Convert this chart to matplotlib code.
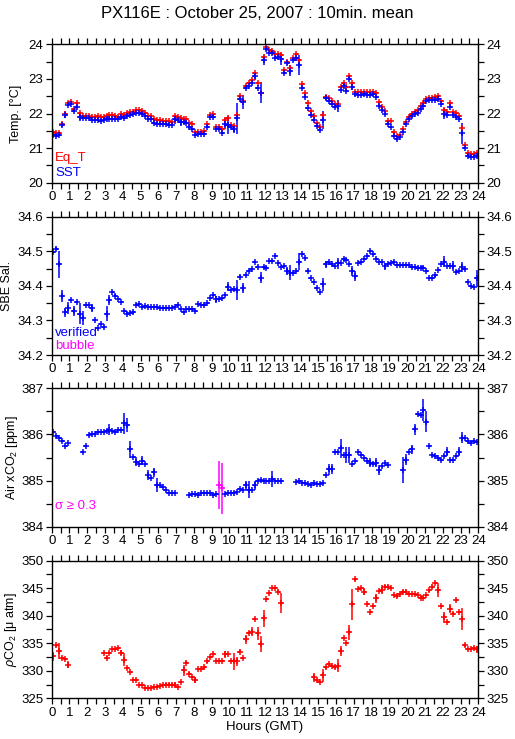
import numpy as np
import matplotlib
matplotlib.use("Agg")
import matplotlib.pyplot as plt

plt.rcParams['font.family'] = ['Liberation Sans', 'DejaVu Sans']
plt.rcParams['mathtext.fontset'] = 'custom'
plt.rcParams['mathtext.rm'] = 'Liberation Sans'
plt.rcParams['mathtext.it'] = 'Liberation Sans:italic'

nan = np.nan
TITLE = "PX116E : October 25, 2007 : 10min. mean"
XLABEL = "Hours (GMT)"
HOURS = np.arange(144) / 6.0 + 1.0 / 12.0   # 10-minute bin centres
BIN_HALF = 1.0 / 12.0

sst = [21.38, 21.36, 21.37, 21.67, 21.96, 22.25, 22.27, 22.07, 22.20, 21.89, 21.86, 21.86,
       21.86, 21.81, 21.81, 21.81, 21.79, 21.81, 21.83, 21.84, 21.83, 21.83, 21.83, 21.90,
       21.88, 21.93, 21.96, 21.98, 22.02, 22.02, 21.99, 21.93, 21.83, 21.83, 21.73, 21.71,
       21.70, 21.70, 21.70, 21.67, 21.67, 21.83, 21.81, 21.74, 21.74, 21.73, 21.62, 21.54,
       21.38, 21.40, 21.41, 21.40, 21.62, 21.89, 21.89, 21.54, 21.54, 21.45, 21.71, 21.67,
       21.60, 21.54, 21.86, 22.41, 22.34, 22.73, 22.80, 22.89, 23.07, 22.73, 22.60, 23.55,
       23.87, 23.76, 23.76, 23.61, 23.64, 23.57, 23.16, 23.45, 23.24, 23.55, 23.61, 23.40,
       22.73, 22.47, 22.15, 21.96, 21.81, 21.65, 21.52, 21.81, 22.44, 22.37, 22.27, 22.18,
       22.22, 22.68, 22.80, 22.66, 22.99, 22.78, 22.55, 22.53, 22.53, 22.55, 22.53, 22.53,
       22.55, 22.49, 22.22, 22.10, 21.98, 21.70, 21.62, 21.36, 21.25, 21.31, 21.46, 21.69,
       21.83, 21.93, 21.98, 22.02, 22.12, 22.22, 22.36, 22.39, 22.39, 22.39, 22.41, 22.27,
       22.00, 21.96, 22.20, 21.96, 21.89, 21.83, 21.43, 21.00, 20.77, 20.75, 20.75, 20.78]
sst_err = {4: 0.1, 9: 0.12, 41: 0.12, 43: 0.1, 58: 0.17, 59: 0.25, 61: 0.1, 62: 0.45,
           64: 0.2, 68: 0.1, 70: 0.3, 71: 0.15, 77: 0.17, 80: 0.15, 83: 0.3, 91: 0.27,
           96: 0.17, 101: 0.1, 132: 0.15, 138: 0.3}
sst_err_default = 0.03

eq_t = [21.47, 21.45, 21.45, 21.70, 22.00, 22.30, 22.34, 22.12, 22.29, 22.02, 21.94, 21.94,
        21.94, 21.91, 21.91, 21.93, 21.89, 21.89, 21.93, 21.95, 21.95, 21.93, 21.91, 21.99,
        21.97, 22.01, 22.04, 22.05, 22.10, 22.11, 22.07, 22.01, 21.94, 21.93, 21.83, 21.81,
        21.81, 21.79, 21.79, 21.78, 21.76, 21.93, 21.89, 21.86, 21.85, 21.83, 21.73, 21.71,
        21.47, 21.47, 21.47, 21.49, 21.70, 21.96, 22.00, 21.62, 21.62, 21.54, 21.81, 21.86,
        21.67, 21.64, 21.95, 22.52, 22.37, 22.80, 22.87, 22.97, 23.18, 22.89, 22.60, 23.62,
        23.91, 23.84, 23.82, 23.72, 23.72, 23.69, 23.26, 23.50, 23.31, 23.60, 23.71, 23.55,
        22.85, 22.58, 22.29, 22.07, 21.93, 21.73, 21.62, 21.95, 22.49, 22.44, 22.37, 22.27,
        22.27, 22.76, 22.89, 22.76, 23.07, 22.89, 22.63, 22.63, 22.63, 22.63, 22.63, 22.63,
        22.63, 22.58, 22.34, 22.20, 22.07, 21.79, 21.77, 21.47, 21.35, 21.37, 21.54, 21.75,
        21.91, 22.00, 22.04, 22.10, 22.22, 22.29, 22.42, 22.46, 22.46, 22.49, 22.52, 22.36,
        22.10, 22.03, 22.29, 22.03, 22.01, 21.94, 21.57, 21.09, 20.85, 20.83, 20.83, 20.85]
eq_t_err_default = 0.02

sal = [34.497, 34.508, 34.462, 34.370, 34.323, 34.337, 34.359, 34.327, 34.352, 34.320, 34.306, 34.345,
       34.345, 34.335, 34.301, 34.277, 34.289, 34.282, 34.320, 34.359, 34.381, 34.372, 34.361, 34.352,
       34.327, 34.320, 34.321, 34.323, 34.345, 34.347, 34.340, 34.342, 34.340, 34.339, 34.340, 34.338,
       34.335, 34.335, 34.337, 34.337, 34.337, 34.339, 34.345, 34.332, 34.325, 34.332, 34.332, 34.332,
       34.327, 34.347, 34.345, 34.345, 34.350, 34.364, 34.373, 34.361, 34.361, 34.364, 34.373, 34.398,
       34.388, 34.391, 34.388, 34.427, 34.393, 34.431, 34.443, 34.448, 34.470, 34.455, 34.424, 34.455,
       34.453, 34.472, 34.472, 34.487, 34.465, 34.455, 34.458, 34.443, 34.438, 34.438, 34.443, 34.470,
       34.491, 34.480, 34.444, 34.422, 34.410, 34.395, 34.383, 34.404, 34.462, 34.468, 34.463, 34.457,
       34.465, 34.465, 34.477, 34.475, 34.462, 34.443, 34.428, 34.467, 34.468, 34.478, 34.487, 34.501,
       34.492, 34.478, 34.468, 34.468, 34.457, 34.463, 34.465, 34.468, 34.460, 34.460, 34.460, 34.460,
       34.460, 34.455, 34.454, 34.453, 34.453, 34.453, 34.444, 34.424, 34.424, 34.430, 34.446, 34.462,
       34.470, 34.457, 34.457, 34.458, 34.441, 34.444, 34.455, 34.449, 34.412, 34.400, 34.398, 34.422]
sal_err = {2: 0.038, 3: 0.018, 4: 0.012, 5: 0.017, 7: 0.015, 9: 0.03, 10: 0.02, 13: 0.012,
           18: 0.022, 19: 0.015, 55: 0.01, 59: 0.012, 62: 0.03, 64: 0.015, 70: 0.017, 79: 0.012,
           80: 0.022, 83: 0.025, 91: 0.018, 92: 0.01, 96: 0.015, 101: 0.015, 102: 0.015,
           112: 0.01, 132: 0.015, 135: 0.015, 138: 0.015, 143: 0.025}
sal_err_default = 0.003

xco2 = [386.06, 385.97, 385.93, 385.86, 385.75, 385.81, nan, nan, nan, nan, 385.63, 385.76,
        385.99, 386.00, 386.01, 386.06, 386.05, 386.06, 386.07, 386.10, 386.07, 386.06, 386.10, 386.10,
        386.24, 386.20, 385.68, 385.52, 385.41, 385.35, 385.43, 385.35, 385.12, 385.05, 385.18, 384.90,
        384.90, 384.85, 384.79, 384.74, 384.72, 384.72, nan, nan, nan, nan, 384.69, 384.70,
        384.70, 384.69, 384.72, 384.72, 384.73, 384.72, 384.69, 384.70, 384.90, 384.83, 384.70, 384.73,
        384.72, 384.74, 384.76, 384.81, 384.80, 384.90, 384.80, 384.80, 384.90, 384.99, 385.01, 385.00,
        385.00, 384.99, 385.03, 384.99, 384.98, 384.98, nan, nan, nan, nan, 384.96, 384.99,
        384.95, 384.94, 384.92, 384.90, 384.94, 384.92, 384.92, 384.94, 385.13, 385.24, 385.25, 385.63,
        385.63, 385.70, 385.55, 385.55, 385.55, 385.35, 385.42, 385.61, 385.55, 385.50, 385.42, 385.39,
        385.35, 385.39, 385.23, 385.32, 385.39, 385.34, nan, nan, nan, nan, 385.23, 385.45,
        385.61, 385.68, 386.11, 386.44, 386.42, 386.53, 386.28, 385.75, 385.55, 385.53, 385.48, 385.45,
        385.53, 385.63, 385.45, 385.45, 385.53, 385.63, 385.93, 385.92, 385.86, 385.82, 385.86, 385.84]
xco2_err = {19: 0.12, 24: 0.22, 25: 0.15, 26: 0.18, 28: 0.1, 30: 0.1, 32: 0.1, 34: 0.1,
            35: 0.15, 56: 0.52, 57: 0.55, 65: 0.1, 66: 0.18, 68: 0.1, 74: 0.17, 93: 0.12,
            94: 0.1, 97: 0.2, 99: 0.17, 100: 0.18, 107: 0.1, 109: 0.1, 110: 0.1, 118: 0.28,
            119: 0.12, 121: 0.1, 122: 0.12, 125: 0.23, 126: 0.23, 133: 0.1, 137: 0.1, 138: 0.12}
xco2_err_default = 0.02
xco2_high_sigma = [56, 57]

pco2 = [332.6, 334.6, 333.6, 332.3, 332.1, 331.1, nan, nan, nan, nan, nan, nan,
        nan, nan, nan, nan, nan, 333.2, 332.4, 333.2, 333.9, 333.9, 334.1, 333.3,
        332.0, 330.5, 329.8, 328.3, 328.3, 327.4, 327.4, 326.8, 326.8, 326.8, 327.1, 327.1,
        327.2, 327.4, 327.5, 327.5, 327.5, 327.5, 327.1, 327.9, 330.1, 331.5, 329.5, 328.9,
        328.3, 330.3, 330.3, 330.6, 331.7, 332.5, 333.0, 331.8, 331.8, 331.8, 333.0, 333.0,
        331.8, 331.7, 331.7, 333.5, 332.3, 335.7, 336.8, 337.1, 339.4, 336.8, 334.9, 339.5,
        343.0, 344.1, 345.1, 345.1, 344.4, 342.3, nan, nan, nan, nan, nan, nan,
        nan, nan, nan, nan, 328.8, 328.3, 328.0, 329.2, 330.6, 331.2, 330.9, 330.6,
        330.9, 333.6, 335.9, 335.0, 337.0, 342.1, 346.6, 344.9, 345.0, 344.4, 342.1, 340.7,
        341.7, 343.2, 344.5, 344.7, 345.3, 345.3, 345.0, 343.8, 343.5, 343.9, 344.4, 344.4,
        344.0, 343.9, 343.9, 343.8, 343.3, 343.3, 343.8, 344.6, 345.3, 346.0, 344.7, 341.8,
        339.7, 338.8, 341.3, 340.4, 342.9, 340.7, 339.4, 334.6, 333.9, 334.0, 334.2, 333.9]
pco2_err = {0: 0.8, 2: 1.4, 5: 0.6, 23: 0.5, 24: 1.2, 41: 0.5, 44: 1.0, 48: 0.6, 58: 0.6,
            61: 1.5, 62: 0.8, 65: 0.8, 67: 0.8, 69: 1.2, 70: 1.4, 71: 1.6, 77: 1.8, 88: 0.8,
            91: 1.2, 96: 1.2, 97: 0.9, 100: 1.4, 101: 2.8, 105: 0.7, 109: 0.8, 111: 0.8,
            130: 1.3, 132: 1.0, 134: 0.8, 138: 2.0, 143: 0.6}
pco2_err_default = 0.2

panels = [
    dict(ylabel="Temp. [°C]", ylim=(20, 24), major=1, minor=0.5, label_px=16.5),
    dict(ylabel="SBE Sal.", ylim=(34.2, 34.6), major=0.1, minor=0.05, label_px=7.5),
    dict(ylabel="Air xCO$_2$ [ppm]", ylim=(384, 387), major=1, minor=0.5, label_px=11.5),
    dict(ylabel="$\\rho$CO$_2$ [μ atm]", ylim=(325, 350), major=5, minor=2.5, label_px=11.0),
]

BLUE = (0, 0, 1)
RED = (1, 0, 0)
MAG = (1, 0, 1)


def errs(n, table, default):
    e = np.full(n, default)
    for k, v in table.items():
        e[k] = v
    return e


def plot_series(ax, x, y, yerr, color):
    ax.errorbar(x, y, xerr=BIN_HALF, yerr=yerr, fmt='+', color=color, ecolor=color,
                markersize=4.4, markeredgewidth=1.1, elinewidth=1.1, capsize=0)


W, H = 515, 739
fig = plt.figure(figsize=(W / 100, H / 100), dpi=100)
X0, X1 = 51.7, 478.3
left = X0 / W
width = (X1 - X0) / W
tops = [44.3, 216.7, 388.3, 560.7]
bots = [182.7, 355.0, 526.7, 698.3]
axes = []
for t, b in zip(tops, bots):
    axes.append(fig.add_axes([left, 1 - b / H, width, (b - t) / H]))

fs = 9.5
for ax, p in zip(axes, panels):
    ax.set_xlim(0, 24)
    ax.set_ylim(*p['ylim'])
    ax.set_xticks(np.arange(0, 25, 1))
    ax.set_xticks(np.arange(0, 24.01, 0.5), minor=True)
    y0, y1 = p['ylim']
    ax.set_yticks(np.round(np.arange(y0, y1 + 1e-9, p['major']), 3))
    ax.set_yticks(np.arange(y0, y1 + 1e-9, p['minor']), minor=True)
    if p['major'] < 1:
        ax.yaxis.set_major_formatter(matplotlib.ticker.FormatStrFormatter('%.1f'))
    ax.tick_params(which='both', direction='out', top=True, right=True,
                   labelright=True, length=4, width=0.9, labelsize=fs, pad=2)
    for s in ax.spines.values():
        s.set_linewidth(1.0)
    ax.set_ylabel(p['ylabel'], fontsize=9, va='center')
    ax.yaxis.set_label_coords((p['label_px'] - X0) / (X1 - X0), 0.5)

n = 144
a1, a2, a3, a4 = axes
plot_series(a1, HOURS, eq_t, eq_t_err_default, RED)
plot_series(a1, HOURS, sst, errs(n, sst_err, sst_err_default), BLUE)
a1.text(0.008, 0.155, "Eq_T", color=RED, transform=a1.transAxes, fontsize=fs)
a1.text(0.008, 0.05, "SST", color=BLUE, transform=a1.transAxes, fontsize=fs)

plot_series(a2, HOURS, sal, errs(n, sal_err, sal_err_default), BLUE)
a2.text(0.008, 0.135, "verified", color=BLUE, transform=a2.transAxes, fontsize=fs)
a2.text(0.008, 0.04, "bubble", color=MAG, transform=a2.transAxes, fontsize=fs)

xe = errs(n, xco2_err, xco2_err_default)
xarr = np.array(xco2)
idx_b = [i for i in range(n) if i not in xco2_high_sigma]
plot_series(a3, HOURS[idx_b], xarr[idx_b], xe[idx_b], BLUE)
plot_series(a3, HOURS[xco2_high_sigma], xarr[xco2_high_sigma], xe[xco2_high_sigma], MAG)
a3.text(0.008, 0.13, "σ ≥ 0.3", color=MAG, transform=a3.transAxes, fontsize=fs)

plot_series(a4, HOURS, pco2, errs(n, pco2_err, pco2_err_default), RED)
a4.set_xlabel(XLABEL, fontsize=fs, labelpad=2)

fig.text(0.5, 1 - 13 / H, TITLE, ha='center', va='center', fontsize=12)

fig.savefig("out.png", dpi=100)
